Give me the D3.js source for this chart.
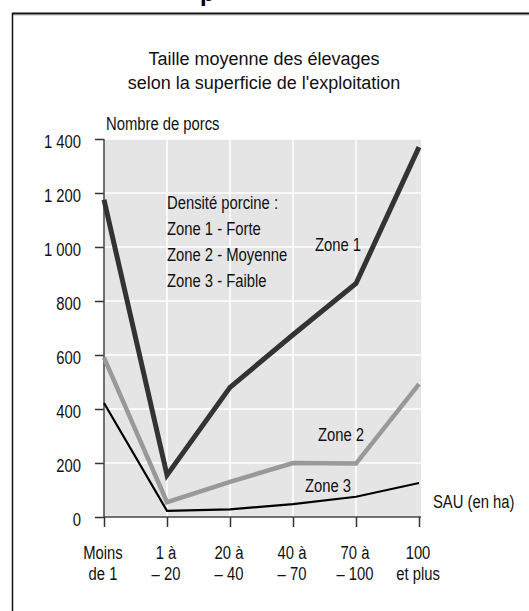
<meta charset="utf-8">
<title>Taille moyenne des élevages</title>
<style>
  body { margin: 0; background: #fff; }
  svg { display: block; }
  .cond { font-family: "Liberation Sans", Arial, sans-serif; font-size: 19px; fill: #111; }
</style>
<body>
<script src="https://cdn.jsdelivr.net/npm/d3@7"></script>
<script>
//==================================================================
var width = 529,
    height = 611;

// data
var classes = ['Moins|de 1', '1 à|– 20', '20 à|– 40', '40 à|– 70', '70 à|– 100', '100|et plus'];
var zone1 = [1175, 155, 480, 675, 865, 1370];
var zone2 = [590, 55, 130, 200, 198, 492];
var zone3 = [422, 23, 28, 48, 75, 126];
var yTicks = [0, 200, 400, 600, 800, 1000, 1200, 1400];
var legendLines = ['Densité porcine :', 'Zone 1 - Forte', 'Zone 2 - Moyenne', 'Zone 3 - Faible'];

var squeeze = 0.78; // condensed look

var x = d3.scalePoint()
    .domain(d3.range(classes.length))
    .range([104, 419]);

var y = d3.scaleLinear()
    .domain([0, 1400])
    .range([517, 139]);

var svg = d3.select('body').append('svg')
    .attr('width', width)
    .attr('height', height);

function ctext(txt, tx, ty, anchor) {
    return svg.append('text').attr('class', 'cond')
        .attr('transform', 'translate(' + tx + ',' + ty + ') scale(' + squeeze + ',1)')
        .attr('text-anchor', anchor || 'start')
        .text(txt);
}

// frame (cropped: only left and top edges visible)
svg.append('line').attr('x1', 12).attr('x2', width).attr('y1', 13.5).attr('y2', 13.5)
    .style('stroke', '#111').style('stroke-width', 2);
svg.append('line').attr('x1', 12).attr('x2', width).attr('y1', 15.5).attr('y2', 15.5)
    .style('stroke', '#ddd');
svg.append('line').attr('x1', 12.5).attr('x2', 12.5).attr('y1', 13).attr('y2', height)
    .style('stroke', '#111').style('stroke-width', 1.5);
// cut-off heading letter above the frame
svg.append('text').attr('x', 200).attr('y', 1)
    .style('font-family', '"Liberation Sans", sans-serif').style('font-weight', 'bold')
    .style('font-size', '24px').text('p');

// title
var title = svg.append('text')
    .attr('text-anchor', 'middle')
    .style('font-family', '"Liberation Sans", Arial, sans-serif')
    .style('font-size', '18px')
    .style('fill', '#111');
title.append('tspan').attr('x', 264).attr('y', 65).text('Taille moyenne des élevages');
title.append('tspan').attr('x', 264).attr('y', 89).text("selon la superficie de l'exploitation");

// plot background + grid
svg.append('rect')
    .attr('x', x(0)).attr('y', y(1400))
    .attr('width', 421 - x(0)).attr('height', y(0) - y(1400))
    .style('fill', '#e5e5e5');

svg.append('g').selectAll('line')
    .data(yTicks.slice(1))
    .enter().append('line')
    .attr('x1', x(0)).attr('x2', 421)
    .attr('y1', function(d) { return y(d); })
    .attr('y2', function(d) { return y(d); })
    .style('stroke', '#fff').style('stroke-width', 1.5);

svg.append('g').selectAll('line')
    .data(d3.range(1, classes.length - 1))
    .enter().append('line')
    .attr('x1', function(d) { return x(d); })
    .attr('x2', function(d) { return x(d); })
    .attr('y1', y(1400)).attr('y2', y(0))
    .style('stroke', '#fff').style('stroke-width', 1.5);

// axes
var yAxis = svg.append('g')
    .attr('transform', 'translate(' + x(0) + ',0)')
    .call(d3.axisLeft(y).tickValues(yTicks).tickSize(9).tickPadding(0)
        .tickFormat(function(d) { return d3.format(',')(d).replace(',', ' '); }));
yAxis.select('.domain').remove();
yAxis.selectAll('line').style('stroke', '#333').style('stroke-width', 1.5);
yAxis.selectAll('text')
    .attr('class', 'cond')
    .attr('x', null).attr('dy', '0.36em')
    .attr('transform', 'translate(-23,2) scale(' + squeeze + ',1)')
    .style('font-size', null).style('font-family', null);

svg.append('line').attr('x1', x(0)).attr('x2', x(0)).attr('y1', y(1400)).attr('y2', y(0))
    .style('stroke', '#444').style('stroke-width', 1.5);
svg.append('line').attr('x1', x(0)).attr('x2', 421).attr('y1', y(0)).attr('y2', y(0))
    .style('stroke', '#444').style('stroke-width', 1.5);

var xAxis = svg.append('g')
    .attr('transform', 'translate(0,' + y(0) + ')')
    .call(d3.axisBottom(x).tickSize(10).tickFormat(''));
xAxis.select('.domain').remove();
xAxis.selectAll('line').style('stroke', '#333').style('stroke-width', 1.5);

classes.forEach(function(d, i) {
    var parts = d.split('|');
    ctext(parts[0], x(i) - 1, 559, 'middle');
    ctext(parts[1], x(i) - 1, 580, 'middle');
});

// lines
var line = d3.line()
    .x(function(d, i) { return x(i); })
    .y(function(d) { return y(d); });

var series = [
    { values: zone3, color: '#000', w: 2.2 },
    { values: zone2, color: '#999', w: 4.5 },
    { values: zone1, color: '#333', w: 5 }
];
series.forEach(function(s) {
    svg.append('path')
        .attr('d', line(s.values))
        .style('fill', 'none')
        .style('stroke', s.color)
        .style('stroke-width', s.w)
        .style('stroke-linejoin', 'miter');
});

// labels
ctext('Nombre de porcs', 106, 130);
ctext('SAU (en ha)', 433, 508);
ctext('Zone 1', 315, 251);
ctext('Zone 2', 318, 441);
ctext('Zone 3', 305, 492);
legendLines.forEach(function(t, i) {
    ctext(t, 167, 209 + i * 26);
});
</script>
